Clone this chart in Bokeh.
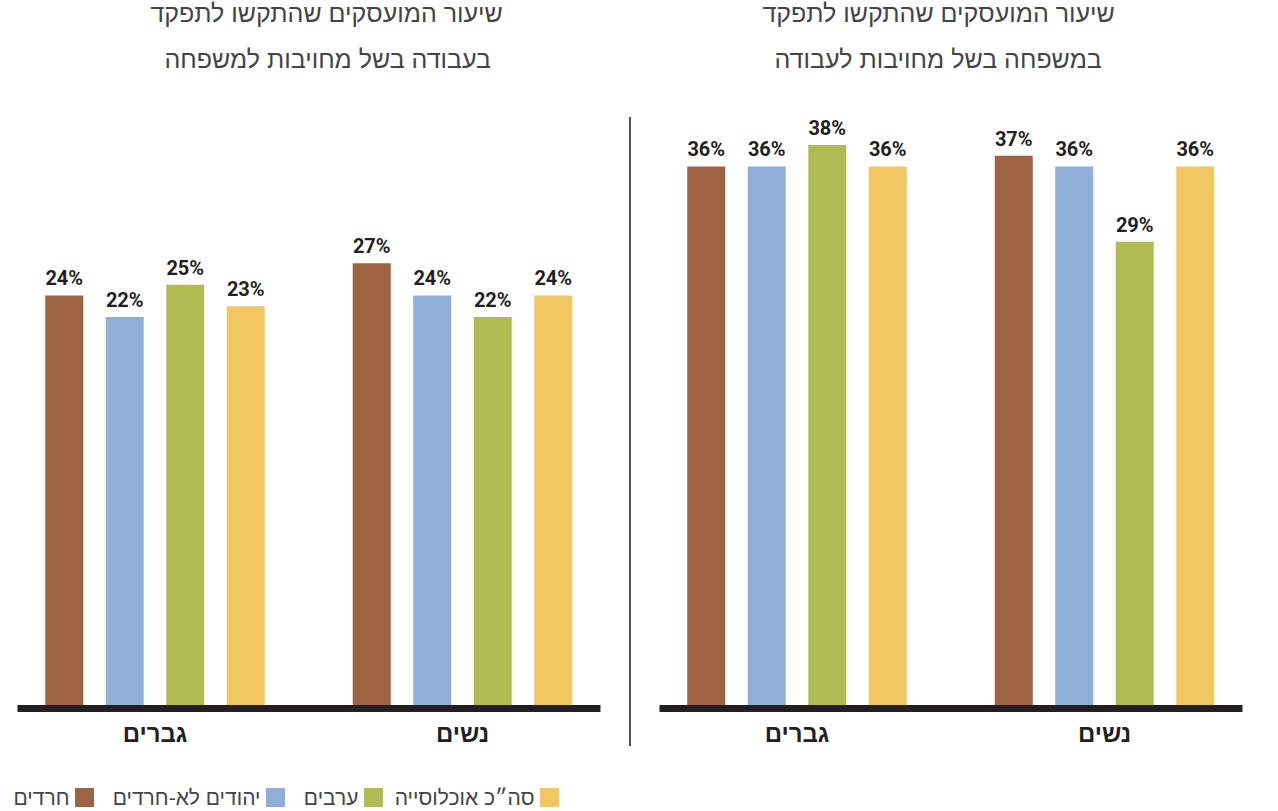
from bokeh.plotting import figure
from bokeh.models import ColumnDataSource, Range1d, FixedTicker, Title, Div
from bokeh.transform import dodge
from bokeh.layouts import row, column
from bokeh.embed import file_html
from bokeh.resources import INLINE
from bokeh.core.properties import value

# ---------------- data ----------------
groups = ["גברים", "נשים"]
series = ["חרדים", "יהודים לא-חרדים", "ערבים", "סה״כ אוכלוסייה"]
colors = ["#9D6343", "#8FAFD8", "#B0BB52", "#F2C762"]

left_title = ["שיעור המועסקים שהתקשו לתפקד", "בעבודה בשל מחויבות למשפחה"]
right_title = ["שיעור המועסקים שהתקשו לתפקד", "במשפחה בשל מחויבות לעבודה"]

# values per series: [גברים, נשים]
left_haredim = [24, 27]
left_jews = [22, 24]
left_arabs = [25, 22]
left_total = [23, 24]

right_haredim = [36, 37]
right_jews = [36, 36]
right_arabs = [38, 29]
right_total = [36, 36]

# ---------------- styling / layout ----------------
TEXT = "#231F20"
HEB = "Liberation Sans"
Y0, Y1 = -14.42, 42.88
UNIT = 307.5
X0 = -137.5 / UNIT
X1 = X0 + 583 / UNIT
STEP = 60.5 / UNIT
BW = 38 / UNIT
TOP_H = 760
FRAME_TOP = 92


def panel(width, mb_left, mb_right, title_lines, vals, offsets):
    p = figure(width=width, height=TOP_H, x_range=Range1d(X0, X1), y_range=Range1d(Y0, Y1),
               output_backend="svg", toolbar_location=None, y_axis_location=None,
               min_border_left=mb_left, min_border_right=mb_right,
               min_border_top=FRAME_TOP, min_border_bottom=52, title=None)
    p.outline_line_color = None
    p.xgrid.visible = False
    p.ygrid.visible = False

    ax = p.xaxis[0]
    ax.ticker = FixedTicker(ticks=[0, 1])
    ax.major_label_overrides = {0: groups[0], 1: groups[1]}
    ax.major_tick_line_color = None
    ax.minor_tick_line_color = None
    ax.axis_line_width = 7
    ax.axis_line_color = TEXT
    ax.major_label_text_font = HEB
    ax.major_label_text_font_style = "bold"
    ax.major_label_text_font_size = "24px"
    ax.major_label_text_color = TEXT
    ax.major_label_standoff = 5

    for i, (name, v) in enumerate(zip(series, vals)):
        src = ColumnDataSource(dict(x=[0, 1], top=v, label=[f"{t}%" for t in v]))
        off = (i - 1.5) * STEP
        p.vbar(x=dodge("x", off, range=p.x_range), top="top", bottom=Y0, width=BW,
               source=src, fill_color=colors[i], line_color=None)
        p.text(x=dodge("x", off, range=p.x_range), y="top", text="label", source=src,
               text_align="center", text_baseline="bottom", y_offset=-5,
               text_font=value("Roboto"), text_font_style="bold",
               text_font_size="20px", text_color=TEXT)

    # two-line title above the plotting area (inner line first)
    p.add_layout(Title(text=title_lines[1], align="left", offset=offsets[1],
                       text_font=HEB, text_font_style="normal", text_font_size="25px",
                       text_color="#444444", standoff=40), "above")
    p.add_layout(Title(text=title_lines[0], align="left", offset=offsets[0],
                       text_font=HEB, text_font_style="normal", text_font_size="25px",
                       text_color="#444444", standoff=-8), "above")
    return p


left = panel(624, 17, 24, left_title,
             [left_haredim, left_jews, left_arabs, left_total], (133, 147))
right = panel(640, 25, 32, right_title,
              [right_haredim, right_jews, right_arabs, right_total], (103, 115))

# thin vertical separator between the two panels
sep = Div(width=10, height=TOP_H, margin=0,
          text='<div style="margin-left:5px;margin-top:117px;width:1.5px;'
               'height:629px;background:#555555"></div>')

# legend (right-to-left: label to the left of its swatch)
LEG_H = 51
leg = figure(width=1262, height=LEG_H, x_range=Range1d(0, 1262), y_range=Range1d(0, LEG_H),
             output_backend="svg", toolbar_location=None, title=None,
             x_axis_location=None, y_axis_location=None,
             min_border_left=0, min_border_right=0, min_border_top=0, min_border_bottom=0)
leg.outline_line_color = None
leg.xgrid.visible = False
leg.ygrid.visible = False
sw_x = [84, 275, 373, 549]
leg_src = ColumnDataSource(dict(x=sw_x, tx=[x - 15 for x in sw_x], y=[14] * 4,
                                c=colors, t=series))
leg.rect(x="x", y="y", width=19, height=19, width_units="screen", height_units="screen",
         fill_color="c", line_color=None, source=leg_src)
leg.text(x="tx", y="y", text="t", source=leg_src, text_align="right", text_baseline="middle",
         text_font=value(HEB), text_font_size="21px", text_color="#444444")

layout = column(row(left, sep, right), leg)
open("out.html", "w").write(file_html(layout, INLINE))
